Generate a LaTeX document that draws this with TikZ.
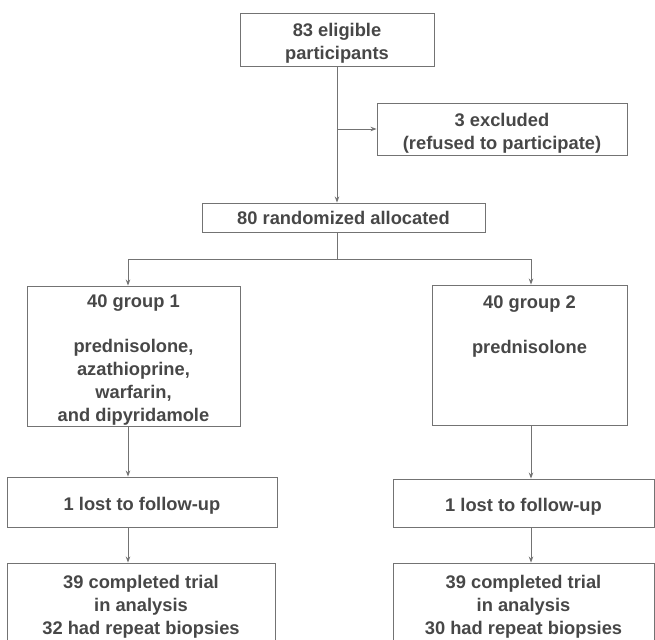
\documentclass[tikz,border=0pt]{standalone}
\usepackage{fontspec}
\setmainfont{Liberation Sans}
\usetikzlibrary{arrows.meta}

\newcommand{\topgap}{\rule{0pt}{21.5pt}}

\tikzstyle{box} = [rectangle, draw=black!55, line width=0.9pt, text=black!72,
                   font=\fontsize{18.3}{23}\selectfont\bfseries,
                   align=center, inner sep=0pt]
\tikzstyle{flow} = [-{Stealth[length=6pt,width=4.5pt]}, draw=black!55,
                    line width=0.9pt]

\begin{document}
\begin{tikzpicture}[x=1pt, y=-1pt]
  \useasboundingbox (0,0) rectangle (655,639);

  %% Enrolment
  \node (eligible) [box, minimum width=194pt, minimum height=53pt] at (337,39.5)
        {\topgap 83 eligible\\ participants};
  \node (excluded) [box, minimum width=250pt, minimum height=52pt] at (502,129)
        {\topgap 3 excluded\\ (refused to participate)};
  \node (random) [box, minimum width=283pt, minimum height=29pt] at (343.5,217.5)
        {80 randomized allocated};

  \draw [flow] (eligible.south) -- (eligible.south |- random.north);
  \draw [flow] (eligible.south |- excluded.west) -- (excluded.west);

  %% Allocation
  \node (group1) [box, minimum width=213pt, minimum height=140pt] at (133.5,356)
        {\topgap 40 group 1\\[22pt] prednisolone,\\ azathioprine,\\ warfarin,\\ and dipyridamole};
  \node (group2) [box, minimum width=195pt, minimum height=140pt] at (529.5,355)
        {\topgap 40 group 2\\[22pt] prednisolone\\ \mbox{}\\ \mbox{}\\ \mbox{}};

  \coordinate (forkL) at (128,259);
  \coordinate (forkR) at (531,259);
  \draw [flow] (random.south -| eligible.south) |- (forkL) -- (forkL |- group1.north);
  \draw [flow] (random.south -| eligible.south) |- (forkR) -- (forkR |- group2.north);

  %% Follow-up and analysis
  \node (lost1) [box, minimum width=270pt, minimum height=50pt] at (142,502)
        {\topgap 1 lost to follow-up};
  \node (lost2) [box, minimum width=261pt, minimum height=48pt] at (523.5,503)
        {\topgap 1 lost to follow-up};
  \node (done1) [box, minimum width=268pt, minimum height=88pt] at (141,607)
        {39 completed trial\\ in analysis\\ 32 had repeat biopsies};
  \node (done2) [box, minimum width=261pt, minimum height=88pt] at (523.5,607)
        {39 completed trial\\ in analysis\\ 30 had repeat biopsies};

  \draw [flow] (forkL |- group1.south) -- (forkL |- lost1.north);
  \draw [flow] (forkL |- lost1.south) -- (forkL |- done1.north);
  \draw [flow] (forkR |- group2.south) -- (forkR |- lost2.north);
  \draw [flow] (forkR |- lost2.south) -- (forkR |- done2.north);

\end{tikzpicture}
\end{document}
